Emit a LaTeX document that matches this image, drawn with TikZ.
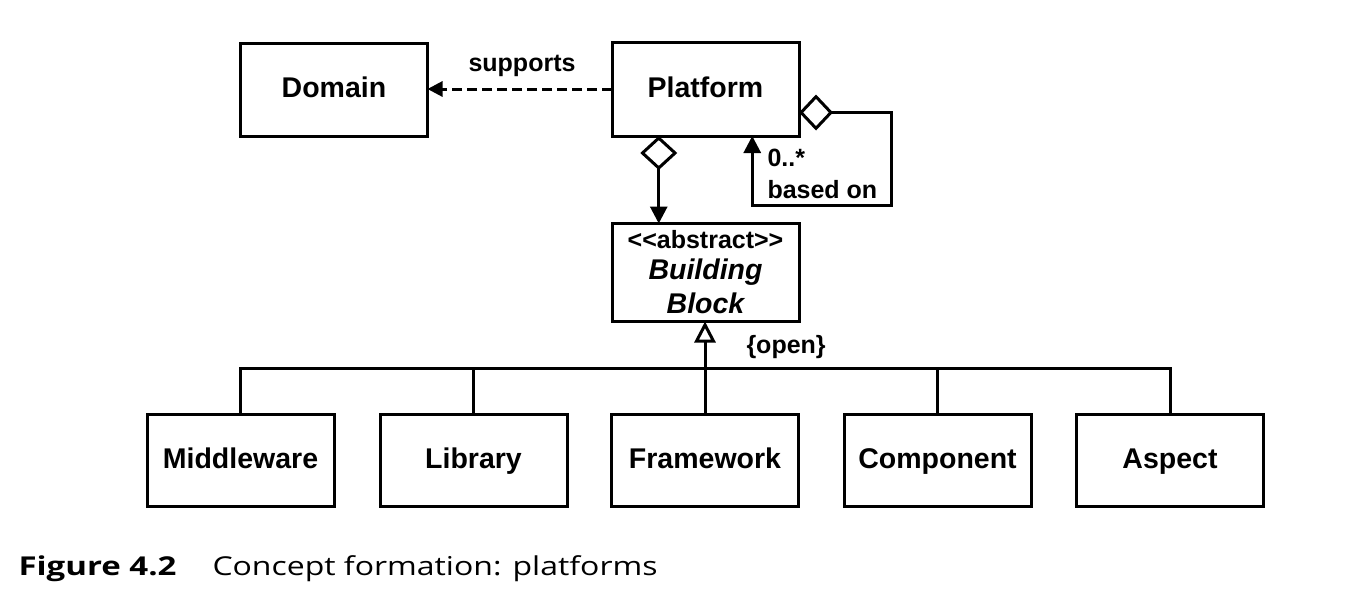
\documentclass[tikz,border=0pt]{standalone}
\usepackage{fontspec}
\setmainfont{Liberation Sans}
\newfontfamily\capfont{Open Sans}
\usetikzlibrary{arrows.meta,calc}
\begin{document}
\begin{tikzpicture}[x=0.5pt,y=-0.5pt, line width=1.5pt,
  box/.style={draw, line width=1.5pt, minimum width=93.5pt, inner sep=0pt, outer sep=0pt,
    font=\fontsize{14.25}{17}\selectfont\bfseries, align=center},
  onebox/.style={box, text height=10.3pt, text depth=2.1pt},
  lbl/.style={font=\fontsize{12.5}{15}\selectfont\bfseries, inner sep=0pt},
  captionfont/.style={font=\capfont\fontsize{13}{15}\selectfont}
]
\useasboundingbox (0,0) rectangle (1370,596);

% boxes
\node[onebox, minimum height=46.5pt] (Domain) at (334,89.5) {Domain};
\node[onebox, minimum height=47pt] (Platform) at (705.5,89) {Platform};
\node[box, minimum height=49pt] (BB) at (705.5,272.5)
  {{\fontsize{12.5}{15.5}\selectfont <{}<abstract>{}>}\\[-1.5pt]
   \fontsize{14.25}{15.5}\selectfont\itshape Building\\ \itshape Block};

\node[onebox, minimum height=46.25pt] (Middleware) at (240.5,460.7) {Middleware};
\node[onebox, minimum height=46.25pt] (Library)    at (473.5,460.7) {Library};
\node[onebox, minimum height=46.25pt] (Framework)  at (705,460.7)   {Framework};
\node[onebox, minimum height=46.25pt] (Component)  at (937.5,460.7) {Component};
\node[onebox, minimum height=46.25pt] (Aspect)     at (1170,460.7)  {Aspect};

% supports
\draw[dash pattern=on 5pt off 2.5pt, -{Triangle[length=7.5pt,width=7.5pt]}]
  (Platform.west) -- (Platform.west -| Domain.east);
\node[lbl] (supports) at (522,66) {supports};

% aggregation Platform -> Building Block
\coordinate (pb) at ($(Platform.south west)!0.25!(Platform.south east)$);
\draw[{Diamond[open,length=17pt,width=18.5pt]}-{Triangle[length=8.5pt,width=8.5pt]}]
  (pb) -- (pb |- BB.north);

% self aggregation (based on)
\coordinate (pe) at ($(Platform.north east)!0.75!(Platform.south east)$);
\coordinate (ps) at ($(Platform.south west)!0.75!(Platform.south east)$);
\draw[{Diamond[open,length=17pt,width=18pt]}-{Triangle[length=8.5pt,width=8.5pt]}]
  (pe) -- ++(92,0) -- ++(0,92.5) -| (ps);
\node[lbl, anchor=west] (mult) at (766,158) {0..*};
\node[lbl, anchor=west] (basedon) at (766,190) {based on};

% generalization
\coordinate (bus) at (705,368);
\draw[-{Triangle[open,length=10.5pt,width=10.5pt]}] (Framework.north) -- (Framework.north |- BB.south);
\draw (Middleware.north) |- (bus) -| (Aspect.north);
\draw (Library.north) -- (Library.north |- bus);
\draw (Component.north) -- (Component.north |- bus);
\node[lbl, anchor=west] (open) at (745,347) {\{open\}};

% caption
\node[font=\capfont\bfseries\fontsize{13}{15}\selectfont, anchor=base west, inner sep=0pt] (fig) at (17,575) {\scalebox{1.27}[1]{Figure 4.2}};
\node[captionfont, anchor=base west, inner sep=0pt] (captext) at (211,575) {\scalebox{1.23}[1]{Concept formation: platforms}};
\end{tikzpicture}
\end{document}
